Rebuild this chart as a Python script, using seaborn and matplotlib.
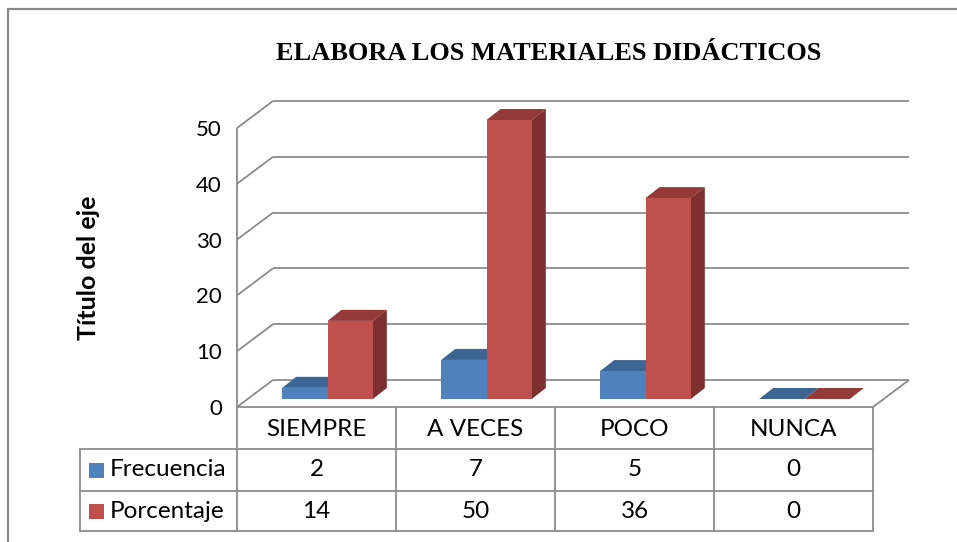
import numpy as np
import pandas as pd
import seaborn as sns
import matplotlib
matplotlib.use("Agg")
import matplotlib.pyplot as plt
from matplotlib import transforms
from matplotlib.patches import Polygon, Rectangle
from matplotlib.lines import Line2D

# ---------------- data ----------------
categorias = ["SIEMPRE", "A VECES", "POCO", "NUNCA"]
series = ["Frecuencia", "Porcentaje"]
frecuencia = [2, 7, 5, 0]
porcentaje = [14, 50, 36, 0]
yticks = [0, 10, 20, 30, 40, 50]
titulo = "ELABORA LOS MATERIALES DIDÁCTICOS"
eje_y = "Título del eje"

# ---------------- style ----------------
W, H = 957, 542
sns.set_theme(style="white")
plt.rcParams["font.family"] = ["Lato", "DejaVu Sans"]
plt.rcParams["text.color"] = "black"

colores = {"Frecuencia": "#4F81BD", "Porcentaje": "#C0504D"}
tops = {"Frecuencia": "#3D6593", "Porcentaje": "#943A38"}
sides = {"Frecuencia": "#385D8A", "Porcentaje": "#7D302E"}
GRID = "#8C8C8C"

fig = plt.figure(figsize=(W / 100, H / 100), dpi=100)
fig.patch.set_facecolor("white")


def fx(px):
    return px / W


def fy(py):
    return 1 - py / H


# front plane axes
ax = fig.add_axes([fx(237), fy(407), (873 - 237) / W, (407 - 128) / H])
ax.set_facecolor("none")

df = pd.DataFrame({
    "categoria": categorias * 2,
    "serie": [series[0]] * len(categorias) + [series[1]] * len(categorias),
    "valor": frecuencia + porcentaje,
})
sns.barplot(data=df, x="categoria", y="valor", hue="serie", order=categorias,
            hue_order=series, palette=colores, width=0.57, saturation=1,
            ax=ax, legend=False, linewidth=0, edgecolor="none")
ax.set_xlim(-0.5, 3.5)
ax.set_ylim(0, 50)

# depth offsets in data units
px_x = 4 / (873 - 237)
px_y = 50 / (407 - 128)
DX, DY = 36 * px_x, 27 * px_y        # back wall
BX, BY = 14 * px_x, 11 * px_y        # bar depth
bar_tr = transforms.offset_copy(ax.transData, fig=fig, x=11, y=8, units="dots")

# ---------------- walls / gridlines ----------------
lkw = dict(color=GRID, lw=1.3, zorder=1, clip_on=False, solid_capstyle="butt")
for v in yticks:
    ax.plot([-0.5 + DX, 3.5 + DX], [v + DY, v + DY], **lkw)
    ax.plot([-0.5, -0.5 + DX], [v, v + DY], **lkw)
ax.plot([-0.5, 3.5], [0, 0], **lkw)
ax.plot([3.5, 3.5 + DX], [0, DY], **lkw)
ax.plot([-0.5, -0.5], [0, 50], **lkw)

# ---------------- 3D bars ----------------
n = len(categorias)
for i, p in enumerate(ax.patches):
    serie = series[i // n]
    z = 3 + i * 0.01
    p.set_transform(bar_tr)
    p.set_clip_on(False)
    p.set_zorder(z + 0.002)
    x0, w, h = p.get_x(), p.get_width(), p.get_height()
    top = Polygon([(x0, h), (x0 + w, h), (x0 + w + BX, h + BY), (x0 + BX, h + BY)],
                  closed=True, facecolor=tops[serie], edgecolor="none",
                  transform=bar_tr, clip_on=False, zorder=z)
    side = Polygon([(x0 + w, 0), (x0 + w, h), (x0 + w + BX, h + BY), (x0 + w + BX, BY)],
                   closed=True, facecolor=sides[serie], edgecolor="none",
                   transform=bar_tr, clip_on=False, zorder=z + 0.001)
    ax.add_patch(top)
    ax.add_patch(side)

# ---------------- axes cosmetics ----------------
for s in ax.spines.values():
    s.set_visible(False)
ax.set_xticks([])
ax.set_yticks(yticks)
ax.set_yticklabels([str(v) for v in yticks])
ax.tick_params(axis="y", length=0, pad=15 * 0.72, labelsize=16, labelcolor="black")
ax.set_xlabel("")
ax.set_ylabel("")
ax.grid(False)

# ---------------- data table ----------------
pix = transforms.Affine2D().scale(1, -1).translate(0, H)
colx = transforms.blended_transform_factory(ax.transData, pix)
tkw = dict(color=GRID, lw=1.3, clip_on=False, solid_capstyle="projecting")
rows_y = [407, 449, 491, 531]
for y in rows_y[1:]:
    fig.add_artist(Line2D([80, 237], [y, y], transform=pix, **tkw))
    ax.plot([-0.5, 3.5], [y, y], transform=colx, **tkw)
fig.add_artist(Line2D([80, 80], [449, 531], transform=pix, **tkw))
for b in np.arange(-0.5, n, 1.0):
    ax.plot([b, b], [407, 531], transform=colx, **tkw)

fs = 17.5
for j, c in enumerate(categorias):
    ax.text(j, 429, c, transform=colx, ha="center", va="center", fontsize=fs, color="black")
    ax.text(j, 470, str(frecuencia[j]), transform=colx, ha="center", va="center", fontsize=fs, color="black")
    ax.text(j, 511, str(porcentaje[j]), transform=colx, ha="center", va="center", fontsize=fs, color="black")

for k, (s, yc) in enumerate(zip(series, [470, 511])):
    fig.add_artist(Rectangle((89, yc - 7.5), 15, 15, transform=pix,
                             facecolor=colores[s], edgecolor="none"))
    fig.text(fx(110), fy(yc), s, ha="left", va="center", fontsize=fs, color="black")

# ---------------- titles ----------------
fig.text(fx(549), fy(54), titulo, ha="center", va="center", fontsize=19,
         fontweight="bold", color="black", family=["Liberation Serif", "DejaVu Serif"])
fig.text(fx(88), fy(268), eje_y, ha="center", va="center", rotation=90,
         fontsize=18, fontweight="bold", color="black")

# outer chart border
fig.add_artist(Line2D([8, W + 5], [9, 9], transform=pix, color="#8A8A8A", lw=1.6))
fig.add_artist(Line2D([8, 8], [9, H + 5], transform=pix, color="#8A8A8A", lw=1.6))

fig.savefig("out.png", dpi=100, facecolor="white")
